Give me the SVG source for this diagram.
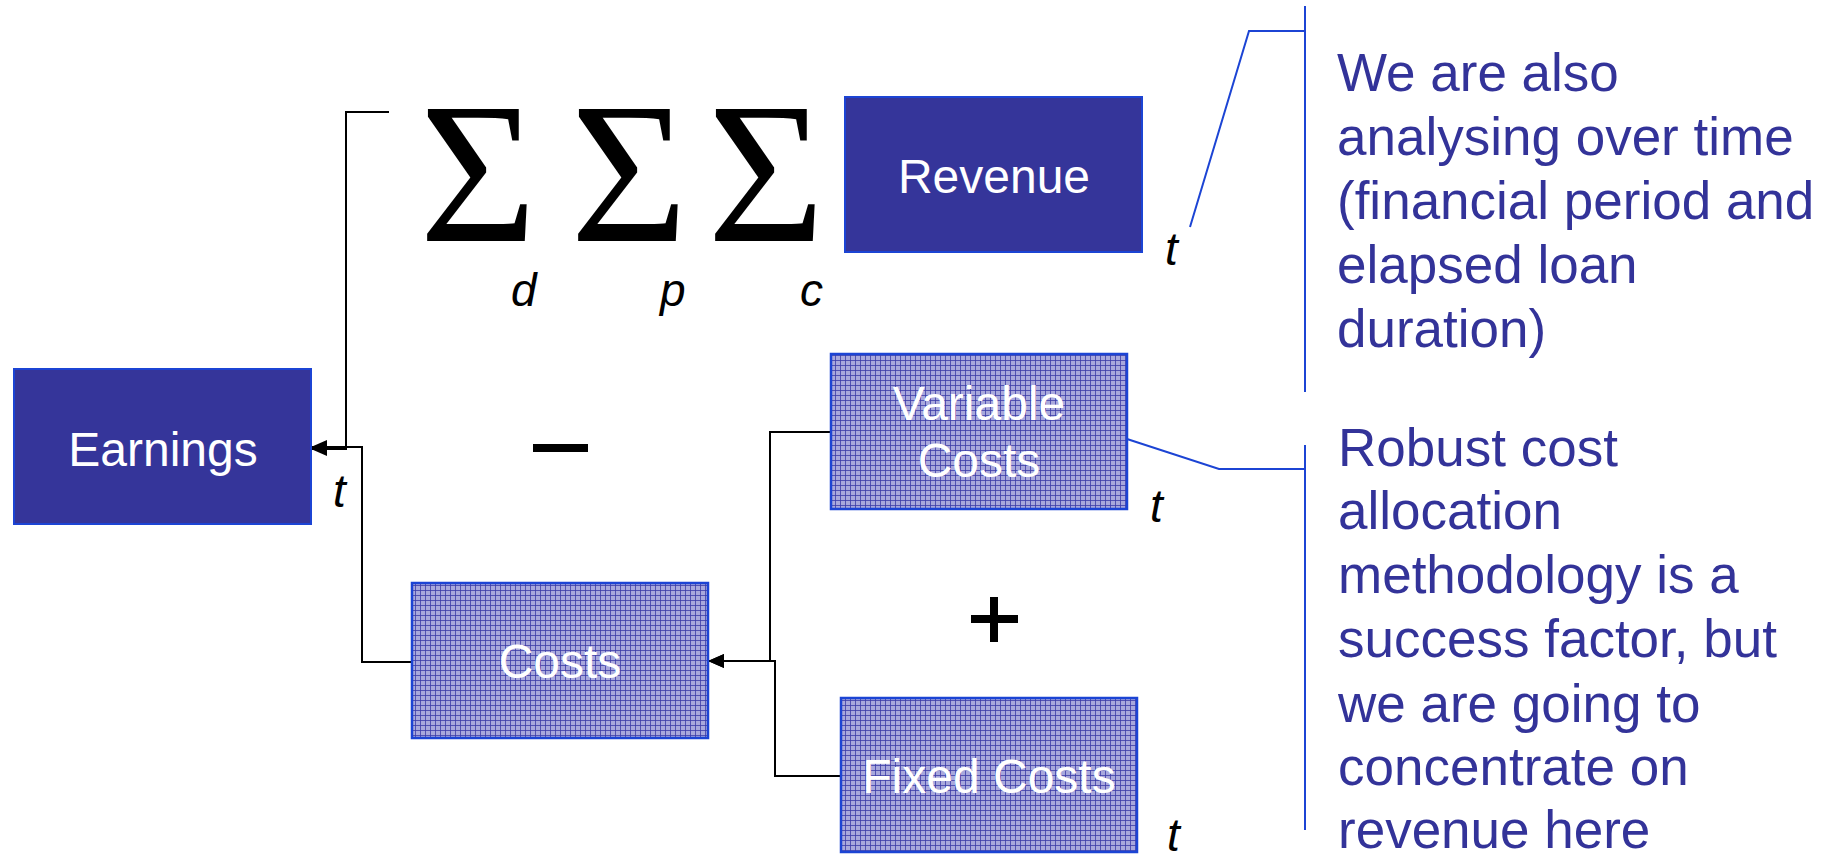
<svg xmlns="http://www.w3.org/2000/svg" width="1837" height="856" viewBox="0 0 1837 856">
  <style>
    .solid { fill: #35359a; stroke: #1c44d4; stroke-width: 2; }
    .hatched { fill: url(#grid); stroke: #1c44d4; stroke-width: 2.5; }
    .label { font-family: "Liberation Sans", Arial, sans-serif; font-size: 48px; fill: #ffffff; text-anchor: middle; }
    .var { font-family: "Liberation Sans", Arial, sans-serif; font-size: 46px; font-style: italic; fill: #000000; }
    .sigma { font-family: "Liberation Serif", "Times New Roman", serif; font-size: 202px; fill: #000000; text-anchor: middle; }
    .note { font-family: "Liberation Sans", Arial, sans-serif; font-size: 53px; fill: #333399; }
    .wire { fill: none; stroke: #000000; stroke-width: 2; }
    .callout { fill: none; stroke: #1c44d4; stroke-width: 2; }
  </style>
  <defs>
    <pattern id="grid" width="5" height="5" patternUnits="userSpaceOnUse">
      <rect width="5" height="5" fill="#a8a8dc"/>
      <path d="M0,0.5 H5 M0.5,0 V5" stroke="#3c3ca8" stroke-width="1" stroke-opacity="0.8"/>
    </pattern>
    <marker id="arrow" markerUnits="userSpaceOnUse" markerWidth="16" markerHeight="14" refX="16" refY="7" orient="auto">
      <path d="M0,0 L16,7 L0,14 z" fill="#000000"/>
    </marker>
  </defs>

  <g id="connectors">
    <path class="wire" d="M389,112 H346 V449 H311" marker-end="url(#arrow)"/>
    <path class="wire" d="M412,662 H362 V447 H311" marker-end="url(#arrow)"/>
    <path class="wire" d="M831,432 H770 V661 H708" marker-end="url(#arrow)"/>
    <path class="wire" d="M841,776 H775 V661 H708" marker-end="url(#arrow)"/>
  </g>

  <g id="earnings">
    <rect class="solid" x="14" y="369" width="297" height="155"/>
    <text class="label" x="163" y="466">Earnings</text>
    <text class="var" x="333" y="507">t</text>
  </g>

  <g id="summation">
    <text class="sigma" x="478" y="241">Σ</text>
    <text class="sigma" x="629" y="241">Σ</text>
    <text class="sigma" x="766" y="241">Σ</text>
    <text class="var" x="511" y="306">d</text>
    <text class="var" x="660" y="306">p</text>
    <text class="var" x="800" y="306">c</text>
  </g>

  <g id="revenue">
    <rect class="solid" x="845" y="97" width="297" height="155"/>
    <text class="label" x="994" y="193">Revenue</text>
    <text class="var" x="1165" y="265">t</text>
  </g>

  <g id="operators">
    <rect x="533" y="444" width="55" height="8" fill="#000000"/>
    <rect x="990" y="597" width="8" height="45" fill="#000000"/>
    <rect x="971" y="615" width="47" height="8" fill="#000000"/>
  </g>

  <g id="variable-costs">
    <rect class="hatched" x="831" y="354" width="296" height="155"/>
    <text class="label" x="979" y="420">Variable</text>
    <text class="label" x="979" y="477">Costs</text>
    <text class="var" x="1150" y="522">t</text>
  </g>

  <g id="costs">
    <rect class="hatched" x="412" y="583" width="296" height="155"/>
    <text class="label" x="560" y="678">Costs</text>
  </g>

  <g id="fixed-costs">
    <rect class="hatched" x="841" y="698" width="296" height="154"/>
    <text class="label" x="989" y="793">Fixed Costs</text>
    <text class="var" x="1167" y="851">t</text>
  </g>

  <g id="note-time">
    <polyline class="callout" points="1190,227 1249,31 1305,31"/>
    <line class="callout" x1="1305" y1="6" x2="1305" y2="392"/>
    <text class="note" x="1337" y="91">We are also</text>
    <text class="note" x="1337" y="155">analysing over time</text>
    <text class="note" x="1337" y="219">(financial period and</text>
    <text class="note" x="1337" y="283">elapsed loan</text>
    <text class="note" x="1337" y="347">duration)</text>
  </g>

  <g id="note-costs">
    <polyline class="callout" points="1127,439 1219,469 1305,469"/>
    <line class="callout" x1="1305" y1="445" x2="1305" y2="830"/>
    <text class="note" x="1338" y="466">Robust cost</text>
    <text class="note" x="1338" y="529">allocation</text>
    <text class="note" x="1338" y="593">methodology is a</text>
    <text class="note" x="1338" y="657">success factor, but</text>
    <text class="note" x="1338" y="722">we are going to</text>
    <text class="note" x="1338" y="785">concentrate on</text>
    <text class="note" x="1338" y="848">revenue here</text>
  </g>
</svg>
